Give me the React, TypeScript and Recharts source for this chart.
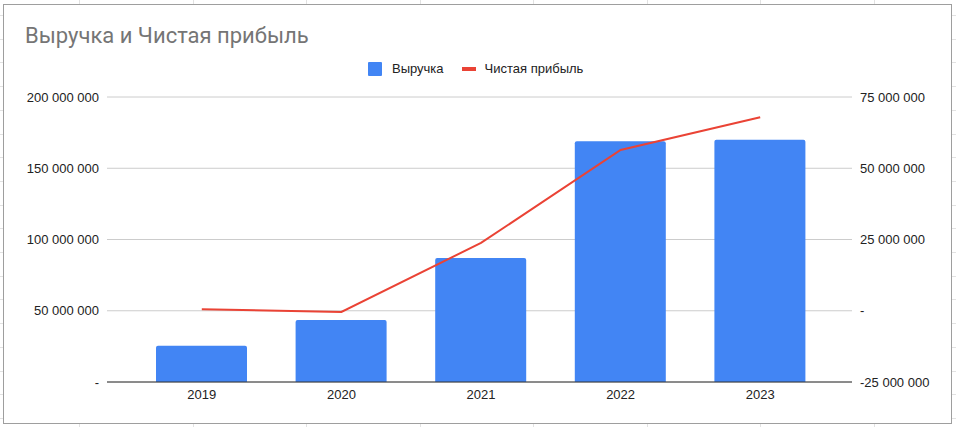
import React from "react";
import {
  ComposedChart,
  Bar,
  Line,
  XAxis,
  YAxis,
  CartesianGrid,
} from "recharts";

const years = ["2019", "2020", "2021", "2022", "2023"];
const revenue = [25500000, 43500000, 87000000, 169000000, 170000000];
const netProfit = [500000, -400000, 23800000, 56400000, 67900000];
const leftTicks = [0, 50000000, 100000000, 150000000, 200000000];
const rightTicks = [-25000000, 0, 25000000, 50000000, 75000000];

const data = years.map((y, i) => ({
  year: y,
  revenue: revenue[i],
  profit: netProfit[i],
}));

const fmt = (v: number) => {
  if (v === 0) return "-";
  const neg = v < 0;
  const s = Math.abs(v)
    .toString()
    .replace(/\B(?=(\d{3})+(?!\d))/g, " ");
  return (neg ? "-" : "") + s;
};

const FONT = "Arial, 'Liberation Sans', sans-serif";

const LegendBox = () => (
  <div
    style={{
      position: "absolute",
      left: 368,
      top: 61,
      display: "flex",
      alignItems: "center",
      fontFamily: FONT,
      fontSize: 13,
      color: "#222",
      whiteSpace: "nowrap",
    }}
  >
    <span
      style={{
        display: "inline-block",
        width: 14,
        height: 14,
        background: "#4285F4",
        borderRadius: 1,
        marginRight: 10,
      }}
    />
    <span style={{ marginRight: 18 }}>Выручка</span>
    <span
      style={{
        display: "inline-block",
        width: 14,
        height: 4,
        background: "#EA4335",
        marginRight: 9,
      }}
    />
    <span>Чистая прибыль</span>
  </div>
);

export default function App() {
  return (
    <div
      style={{
        position: "absolute",
        left: 0,
        top: 0,
        width: 956,
        height: 427,
        overflow: "hidden",
        background: "#fff",
        backgroundImage:
          "repeating-linear-gradient(to right, transparent 0px, transparent 79px, #e2e2e2 79px, #e2e2e2 80px, transparent 80px, transparent 113.5px), repeating-linear-gradient(to bottom, transparent 0px, transparent 15px, #e2e2e2 15px, #e2e2e2 16px, transparent 16px, transparent 23.7px)",
      }}
    >
      <div
        style={{
          position: "absolute",
          left: 3,
          top: 4,
          width: 947,
          height: 418,
          border: "1px solid #9e9e9e",
          background: "#fff",
        }}
      />
      <div
        style={{
          position: "absolute",
          left: 25,
          top: 23,
          fontFamily: "Roboto, Arial, sans-serif",
          fontSize: 22,
          color: "#757575",
          whiteSpace: "nowrap",
        }}
      >
        Выручка и Чистая прибыль
      </div>
      <LegendBox />
      <div style={{ position: "absolute", left: 0, top: 0 }}>
        <ComposedChart
          width={956}
          height={427}
          data={data}
          margin={{ top: 97, left: 7, right: 4, bottom: 0 }}
        >
          <CartesianGrid
            yAxisId="left"
            vertical={false}
            stroke="#cccccc"
          />
          <XAxis
            dataKey="year"
            tickLine={false}
            axisLine={{ stroke: "#333333" }}
            tick={{ fill: "#222", fontSize: 13, fontFamily: FONT }}
            padding={{ left: 25, right: 22 }}
            height={45}
          />
          <YAxis
            yAxisId="left"
            orientation="left"
            domain={[0, 200000000]}
            ticks={leftTicks}
            tickFormatter={fmt}
            width={100}
            axisLine={false}
            tickLine={false}
            tick={{ fill: "#222", fontSize: 13, fontFamily: FONT }}
            interval={0}
          />
          <YAxis
            yAxisId="right"
            orientation="right"
            domain={[-25000000, 75000000]}
            ticks={rightTicks}
            tickFormatter={fmt}
            width={100}
            axisLine={false}
            tickLine={false}
            tick={{ fill: "#222", fontSize: 13, fontFamily: FONT }}
            interval={0}
          />
          <Bar
            yAxisId="left"
            dataKey="revenue"
            name="Выручка"
            fill="#4285F4"
            barSize={91}
            radius={[2, 2, 0, 0]}
            isAnimationActive={false}
          />
          <Line
            yAxisId="right"
            dataKey="profit"
            name="Чистая прибыль"
            stroke="#EA4335"
            strokeWidth={2}
            dot={false}
            activeDot={false}
            isAnimationActive={false}
          />
        </ComposedChart>
      </div>
    </div>
  );
}
